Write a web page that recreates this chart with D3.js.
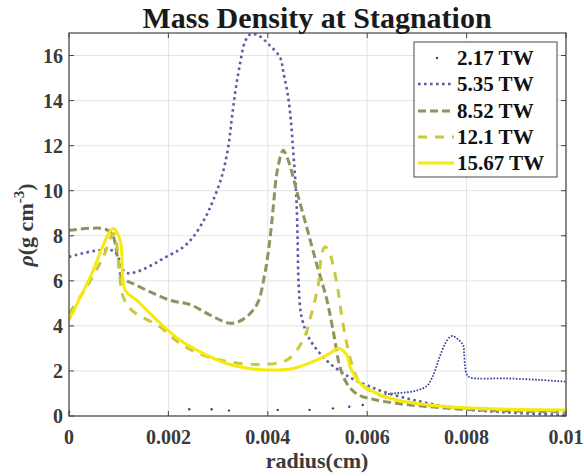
<!DOCTYPE html>
<html><head><meta charset="utf-8">
<script src="https://cdn.jsdelivr.net/npm/d3@7"></script>
<style>body{margin:0;background:#fff}svg{display:block}</style>
</head><body><svg id="c" width="584" height="476"></svg>
<script>
const seriesNames = ["2.17 TW","5.35 TW","8.52 TW","12.1 TW","15.67 TW"];
const xTicks = [0,0.002,0.004,0.006,0.008,0.01];
const xTickLabels = ["0","0.002","0.004","0.006","0.008","0.01"];
const yTicks = [0,2,4,6,8,10,12,14,16];
const yTickLabels = ["0","2","4","6","8","10","12","14","16"];

// 2.17 TW: sparse mesh points, then dense region
const s217sparse = [[0,0.19],[0.00242,0.30],[0.00287,0.30],[0.00322,0.24],[0.0042,0.27],[0.00484,0.27],[0.00531,0.34],[0.00564,0.41],[0.00591,0.49]];
const s217dense = [[0.00629,0.93],[0.00653,1.0],[0.00679,1.05],[0.00703,1.15],[0.0072,1.33],[0.0073,1.67],[0.00738,2.11],[0.00746,2.63],[0.00757,3.22],[0.00767,3.52],[0.00772,3.55],[0.00783,3.4],[0.00793,3.15],[0.00795,2.78],[0.00797,2.2],[0.008,1.86],[0.00807,1.71],[0.0088,1.67],[0.00948,1.6],[0.01,1.52]];
const s535 = [[0,7.06],[0.00089,7.33],[0.00116,6.35],[0.00203,7.15],[0.0023,7.5],[0.0025,7.95],[0.00274,8.8],[0.0029,9.57],[0.00307,10.6],[0.0032,11.87],[0.00327,13.1],[0.00334,14.3],[0.00343,15.5],[0.00354,16.6],[0.00364,16.93],[0.00378,16.93],[0.00404,16.45],[0.00425,15.9],[0.00431,15.3],[0.00441,14.15],[0.00447,12.97],[0.00451,11.8],[0.00455,10.6],[0.00458,9.43],[0.0046,7.8],[0.00462,5.9],[0.00468,4.4],[0.00483,3.45],[0.00505,2.78],[0.00525,2.33],[0.00552,1.89],[0.00572,1.63],[0.00599,1.37],[0.00632,1.08],[0.00693,0.71],[0.0076,0.41],[0.0082,0.25],[0.00988,0.05],[0.01,0.05]];
const s852 = [[0,8.24],[0.00069,8.32],[0.00086,8.1],[0.00099,6.9],[0.00106,6.17],[0.00136,5.8],[0.00203,5.14],[0.00243,4.95],[0.00284,4.48],[0.00324,4.12],[0.00351,4.3],[0.00378,4.95],[0.00394,6.32],[0.00404,7.8],[0.00411,9.28],[0.00418,10.76],[0.00428,11.7],[0.00431,11.8],[0.00441,11.35],[0.00458,10.0],[0.00478,8.4],[0.00498,6.77],[0.00519,5.14],[0.00533,3.6],[0.00545,2.19],[0.00559,1.45],[0.00579,0.98],[0.00612,0.74],[0.00659,0.56],[0.00726,0.41],[0.0082,0.27],[0.01,0.18]];
const s121 = [[0,4.55],[0.00036,5.75],[0.00069,7.06],[0.0009,8.1],[0.00109,5.29],[0.00126,4.7],[0.00183,3.96],[0.00223,3.22],[0.0027,2.7],[0.00324,2.4],[0.00384,2.29],[0.00438,2.48],[0.00471,3.37],[0.00488,4.55],[0.00502,5.88],[0.00508,7.14],[0.00515,7.5],[0.00522,7.36],[0.00539,5.88],[0.00549,4.4],[0.00559,3.2],[0.00572,2.1],[0.00586,1.45],[0.00612,1.05],[0.00659,0.7],[0.00726,0.47],[0.0082,0.32],[0.01,0.22]];
const s1567 = [[0,4.26],[0.00042,6.13],[0.00089,8.32],[0.00103,7.8],[0.00113,5.58],[0.00136,5.14],[0.0017,4.4],[0.00223,3.37],[0.0027,2.78],[0.00317,2.33],[0.00364,2.11],[0.00411,2.04],[0.00451,2.11],[0.00498,2.48],[0.00525,2.78],[0.00542,3.0],[0.00559,2.7],[0.00565,2.2],[0.00586,1.45],[0.00612,1.08],[0.00659,0.71],[0.00726,0.49],[0.0082,0.34],[0.01,0.27]];

const colors = ["#32409e","#5b5ca6","#92925e","#c9c93a","#f6ea0c"];
const FONT = "'Liberation Serif', Tinos, 'Nimbus Roman', 'Times New Roman', 'DejaVu Serif', serif";

const svg = d3.select("#c").attr("font-family",FONT).attr("font-weight","bold");
const L=69, R=566, T=33, B=416;
const x = d3.scaleLinear().domain([0,0.01]).range([L,R]);
const y = d3.scaleLinear().domain([0,17]).range([B,T]);

svg.append("defs").append("clipPath").attr("id","clip").append("rect")
  .attr("x",L).attr("y",T).attr("width",R-L).attr("height",B-T);

const g = svg.append("g");
g.selectAll(".gx").data(xTicks).join("line").attr("x1",d=>x(d)).attr("x2",d=>x(d)).attr("y1",T).attr("y2",B).attr("stroke","#e3e3e3").attr("stroke-width",1);
g.selectAll(".gy").data(yTicks).join("line").attr("x1",L).attr("x2",R).attr("y1",d=>y(d)).attr("y2",d=>y(d)).attr("stroke","#e3e3e3").attr("stroke-width",1);

const line = d3.line().x(d=>x(d[0])).y(d=>y(d[1])).curve(d3.curveCatmullRom.alpha(0.5));
const plot = svg.append("g").attr("clip-path","url(#clip)");

plot.selectAll(".d217").data(s217sparse).join("circle").attr("cx",d=>x(d[0])).attr("cy",d=>y(d[1])).attr("r",1.2).attr("fill",colors[0]);
plot.append("path").attr("d",line(s217dense)).attr("fill","none").attr("stroke",colors[0]).attr("stroke-width",1.8).attr("stroke-dasharray","1.6 1.6");
plot.append("path").attr("d",line(s535)).attr("fill","none").attr("stroke",colors[1]).attr("stroke-width",2.6).attr("stroke-dasharray","2.6 3.4");
plot.append("path").attr("d",line(s852)).attr("fill","none").attr("stroke",colors[2]).attr("stroke-width",3).attr("stroke-dasharray","8 4");
plot.append("path").attr("d",line(s121)).attr("fill","none").attr("stroke",colors[3]).attr("stroke-width",3).attr("stroke-dasharray","9 8");
plot.append("path").attr("d",line(s1567)).attr("fill","none").attr("stroke",colors[4]).attr("stroke-width",3).attr("stroke-linejoin","round");

const ax = svg.append("g");
const axCol="#444";
ax.append("rect").attr("x",L).attr("y",T).attr("width",R-L).attr("height",B-T).attr("fill","none").attr("stroke",axCol).attr("stroke-width",1.2);
const tl=5;
xTicks.forEach(t=>{
  ax.append("line").attr("x1",x(t)).attr("x2",x(t)).attr("y1",B).attr("y2",B-tl).attr("stroke",axCol);
  ax.append("line").attr("x1",x(t)).attr("x2",x(t)).attr("y1",T).attr("y2",T+tl).attr("stroke",axCol);
});
yTicks.forEach(t=>{
  ax.append("line").attr("x1",L).attr("x2",L+tl).attr("y1",y(t)).attr("y2",y(t)).attr("stroke",axCol);
  ax.append("line").attr("x1",R).attr("x2",R-tl).attr("y1",y(t)).attr("y2",y(t)).attr("stroke",axCol);
});
const labCol="#3a3a3a";
ax.selectAll(".xl").data(xTicks).join("text").attr("x",d=>x(d)).attr("y",444).attr("text-anchor","middle").attr("font-size",20).attr("fill",labCol).text((d,i)=>xTickLabels[i]);
ax.selectAll(".yl").data(yTicks).join("text").attr("x",63).attr("y",d=>y(d)+7).attr("text-anchor","end").attr("font-size",20).attr("fill",labCol).text((d,i)=>yTickLabels[i]);

svg.append("text").attr("x",317).attr("y",468).attr("text-anchor","middle").attr("font-size",22).attr("fill",labCol).text("radius(cm)");
const yl = svg.append("text").attr("transform","translate(33,225) rotate(-90)").attr("text-anchor","middle").attr("font-size",22).attr("fill",labCol);
yl.append("tspan").attr("font-style","italic").text("ρ");
yl.append("tspan").text("(g cm");
yl.append("tspan").attr("font-size",15).attr("dy",-9).text("-3");
yl.append("tspan").attr("dy",9).text(")");

svg.append("text").attr("x",317).attr("y",28).attr("text-anchor","middle").attr("font-size",30).attr("fill","#1a1a1a").text("Mass Density at Stagnation");

const lg = svg.append("g");
lg.append("rect").attr("x",414).attr("y",42).attr("width",143).attr("height",135).attr("fill","#fff").attr("stroke","#444").attr("stroke-width",1);
const ly = [58,84,111,137,163];
const dashes = [null,"2.6 3.4","8 4","9 8",null];
const widths = [0,2.6,3,3,3];
seriesNames.forEach((n,i)=>{
  if(i===0){
    lg.append("circle").attr("cx",437).attr("cy",ly[i]).attr("r",1.2).attr("fill",colors[0]);
  } else {
    lg.append("line").attr("x1",418).attr("x2",454).attr("y1",ly[i]).attr("y2",ly[i]).attr("stroke",colors[i]).attr("stroke-width",widths[i]).attr("stroke-dasharray",dashes[i]);
  }
  lg.append("text").attr("x",457).attr("y",ly[i]+7).attr("font-size",21).attr("fill","#111").text(n);
});
</script></body></html>
